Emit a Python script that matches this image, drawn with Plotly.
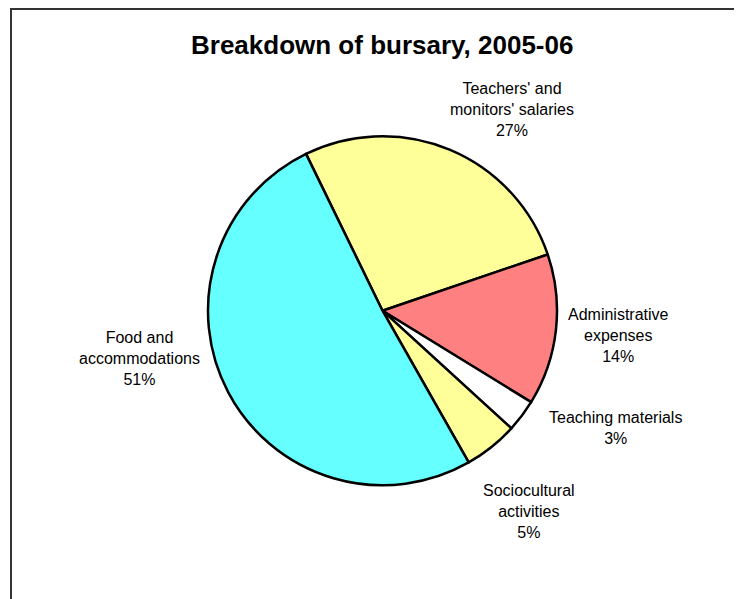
import plotly.graph_objects as go

# ---- data ----
categories = [
    "Teachers' and monitors' salaries",
    "Administrative expenses",
    "Teaching materials",
    "Sociocultural activities",
    "Food and accommodations",
]
label_lines = [
    "Teachers' and<br>monitors' salaries",
    "Administrative<br>expenses",
    "Teaching materials",
    "Sociocultural<br>activities",
    "Food and<br>accommodations",
]
values = [27, 14, 3, 5, 51]
colors = ["#FFFF99", "#FF8080", "#FFFFFF", "#FFFF99", "#66FFFF"]
title_text = "Breakdown of bursary, 2005-06"

# ---- layout (pixels, page coords; page body has 8px margin) ----
W, H = 742, 599
OFF = 8
cx, cy, r = 382.5 - OFF, 310.7 - OFF, 174.5
label_pos = [(512, 109), (618, 335), (615, 428), (529, 511), (139, 358)]
title_pos = (382, 45)

total = sum(values)

fig = go.Figure()
fig.add_trace(go.Pie(
    labels=categories,
    values=values,
    sort=False,
    direction="clockwise",
    rotation=-26,
    textinfo="none",
    hoverinfo="label+percent",
    marker=dict(colors=colors, line=dict(color="#000000", width=2.5)),
    domain=dict(x=[(cx - r) / W, (cx + r) / W],
                y=[(H - cy - r) / H, (H - cy + r) / H]),
    showlegend=False,
))

annotations = []
for lab, v, (px, py) in zip(label_lines, values, label_pos):
    annotations.append(dict(
        x=(px - OFF) / W, y=1 - (py - OFF) / H, xref="paper", yref="paper",
        text=f"{lab}<br>{round(v / total * 100)}%",
        showarrow=False, xanchor="center", yanchor="middle", align="center",
        font=dict(family="Liberation Sans, Arial, sans-serif", size=16, color="#000000"),
    ))
annotations.append(dict(
    x=(title_pos[0] - OFF) / W, y=1 - (title_pos[1] - OFF) / H, xref="paper", yref="paper",
    text=f"<b>{title_text}</b>", showarrow=False,
    xanchor="center", yanchor="middle",
    font=dict(family="Liberation Sans, Arial, sans-serif", size=26, color="#000000"),
))

fig.update_layout(
    width=W, height=H,
    margin=dict(l=0, r=0, t=0, b=0),
    paper_bgcolor="#FFFFFF",
    plot_bgcolor="#FFFFFF",
    annotations=annotations,
    shapes=[dict(type="rect", xref="paper", yref="paper",
                 x0=(11 - OFF) / W, x1=1.2, y0=-0.2, y1=1 - 1 / H,
                 line=dict(color="#333333", width=2), fillcolor="rgba(0,0,0,0)")],
)

fig.write_html("out.html")
